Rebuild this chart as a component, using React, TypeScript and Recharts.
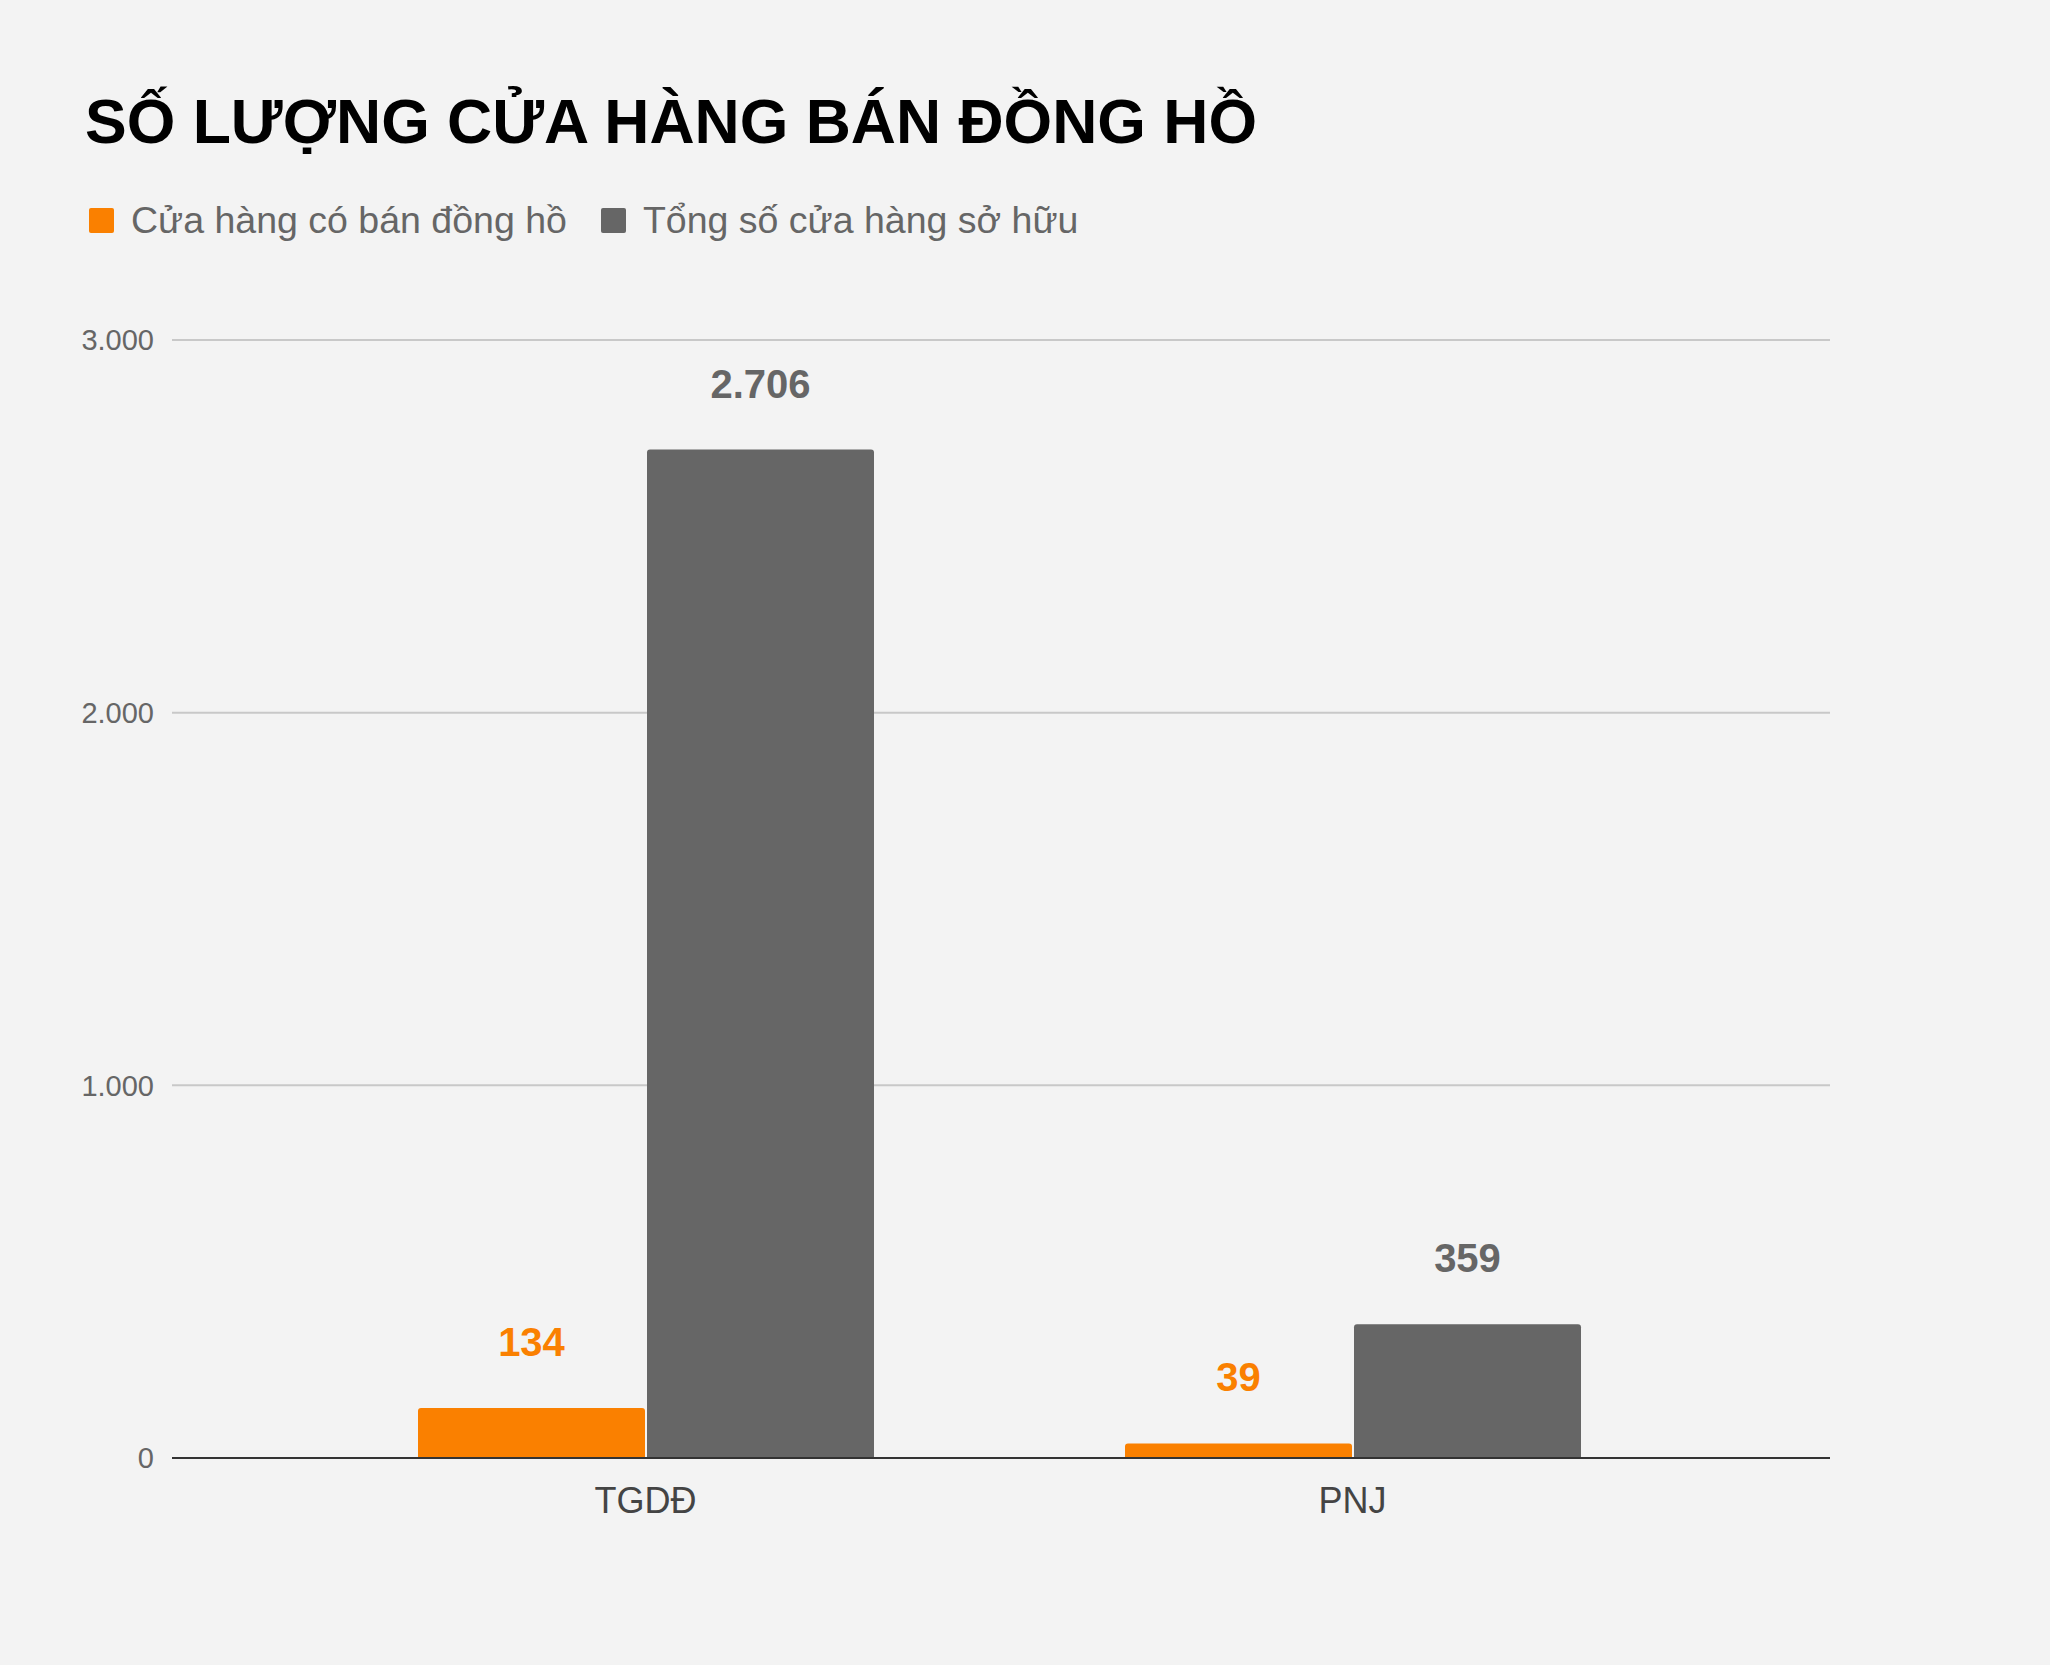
import { BarChart, Bar, XAxis, YAxis, CartesianGrid, LabelList } from "recharts";

const categories = ["TGDĐ", "PNJ"];
const watchStores = [134, 39];
const totalStores = [2706, 359];
const yTicks = [0, 1000, 2000, 3000];

const ORANGE = "#fa8000";
const GRAY = "#666666";

const data = categories.map((name, i) => ({
  name,
  watch: watchStores[i],
  total: totalStores[i],
}));

// 2706 -> "2.706"
const fmt = (v: number | string) =>
  String(v).replace(/\B(?=(\d{3})+(?!\d))/g, ".");

const FONT = "'Liberation Sans', Arial, sans-serif";

export default function App() {
  return (
    <div
      style={{
        position: "absolute",
        left: 0,
        top: 0,
        width: 2050,
        height: 1665,
        background: "#f3f3f3",
        fontFamily: FONT,
        overflow: "hidden",
      }}
    >
      <div
        style={{
          position: "absolute",
          left: 85,
          top: 90,
          fontSize: 62.5,
          lineHeight: "62.5px",
          fontWeight: 700,
          color: "#000",
          whiteSpace: "nowrap",
        }}
      >
        SỐ LƯỢNG CỬA HÀNG BÁN ĐỒNG HỒ
      </div>

      <div
        style={{
          position: "absolute",
          left: 89,
          top: 202,
          display: "flex",
          alignItems: "center",
          fontSize: 37.5,
          lineHeight: "37.5px",
          color: "#666",
          whiteSpace: "nowrap",
        }}
      >
        <span
          style={{ width: 25, height: 25, background: ORANGE, borderRadius: 2, marginRight: 17 }}
        />
        <span style={{ marginRight: 34 }}>Cửa hàng có bán đồng hồ</span>
        <span
          style={{ width: 25, height: 25, background: GRAY, borderRadius: 2, marginRight: 17 }}
        />
        <span>Tổng số cửa hàng sở hữu</span>
      </div>

      <div style={{ position: "absolute", left: 0, top: 0 }}>
        <BarChart
          width={2050}
          height={1665}
          data={data}
          margin={{ top: 340, right: 220, left: 0, bottom: 147 }}
          barSize={227}
          barGap={2}
        >
          <CartesianGrid vertical={false} stroke="#c8c8c8" strokeWidth={2} />
          <XAxis
            dataKey="name"
            height={60}
            padding={{ left: 120, right: 124 }}
            axisLine={{ stroke: "#333", strokeWidth: 2 }}
            tickLine={false}
            tickSize={0}
            tickMargin={29}
            tick={{ fontSize: 36, fill: "#444", fontFamily: FONT }}
          />
          <YAxis
            width={172}
            domain={[0, 3000]}
            ticks={yTicks}
            interval={0}
            axisLine={false}
            tickLine={false}
            tickSize={0}
            tickMargin={18}
            tickFormatter={fmt}
            tick={{ fontSize: 29, fill: "#666", fontFamily: FONT }}
          />
          <Bar dataKey="watch" fill={ORANGE} radius={[3, 3, 0, 0]} isAnimationActive={false}>
            <LabelList
              dataKey="watch"
              position="top"
              offset={52}
              formatter={fmt}
              style={{ fontSize: 40, fontWeight: 700, fill: ORANGE, fontFamily: FONT }}
            />
          </Bar>
          <Bar dataKey="total" fill={GRAY} radius={[3, 3, 0, 0]} isAnimationActive={false}>
            <LabelList
              dataKey="total"
              position="top"
              offset={52}
              formatter={fmt}
              style={{ fontSize: 40, fontWeight: 700, fill: GRAY, fontFamily: FONT }}
            />
          </Bar>
        </BarChart>
      </div>
    </div>
  );
}
